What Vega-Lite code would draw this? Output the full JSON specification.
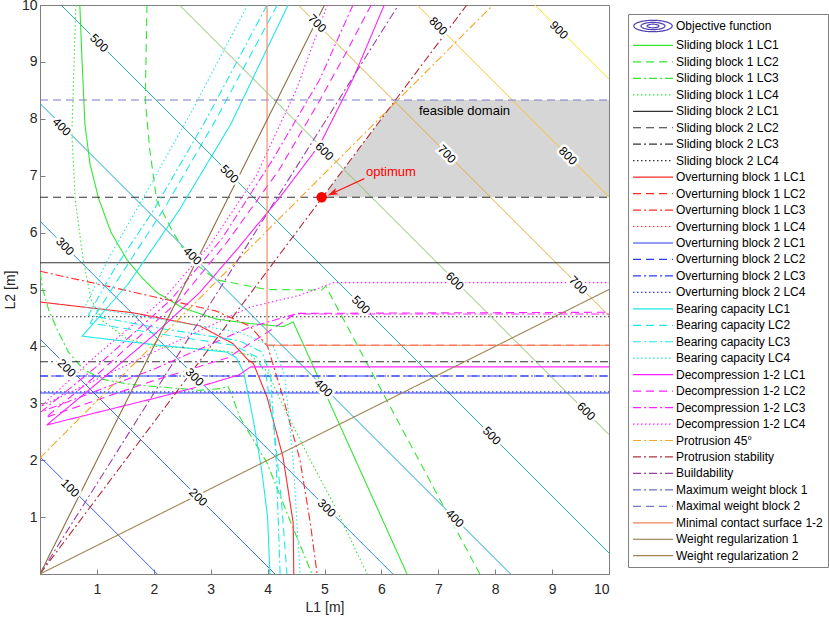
{
  "$schema": "https://vega.github.io/schema/vega-lite/v6.json",
  "width": 569,
  "height": 569,
  "autosize": {"type": "none"},
  "padding": {"left": 40, "top": 5, "right": 220, "bottom": 44},
  "config": {
    "font": "Liberation Sans",
    "view": {"stroke": "#7f7f7f", "strokeWidth": 1},
    "axis": {"grid": false, "domainColor": "#7f7f7f", "tickColor": "#7f7f7f", "labelColor": "#262626", "titleColor": "#262626", "labelFontSize": 14, "titleFontSize": 14, "titleFontWeight": "normal", "labelFont": "Liberation Sans", "titleFont": "Liberation Sans", "tickSize": -5}
  },
  "datasets": {
    "feas": [
      {"x": 4.97, "y": 6.62, "y2": 6.62},
      {"x": 6.25, "y": 6.62, "y2": 8.33},
      {"x": 10, "y": 6.62, "y2": 8.33}
    ],
    "ticks": [{"v": 1}, {"v": 2}, {"v": 3}, {"v": 4}, {"v": 5}, {"v": 6}, {"v": 7}, {"v": 8}, {"v": 9}],
    "contours": [
      {"lev": "100", "i": 0, "x": 0, "y": 2.06}, {"lev": "100", "i": 1, "x": 2.06, "y": 0},
      {"lev": "200", "i": 0, "x": 0, "y": 4.13}, {"lev": "200", "i": 1, "x": 4.13, "y": 0},
      {"lev": "300", "i": 0, "x": 0, "y": 6.2}, {"lev": "300", "i": 1, "x": 6.2, "y": 0},
      {"lev": "400", "i": 0, "x": 0, "y": 8.27}, {"lev": "400", "i": 1, "x": 8.27, "y": 0},
      {"lev": "500", "i": 0, "x": 0.37, "y": 10}, {"lev": "500", "i": 1, "x": 10, "y": 0.37},
      {"lev": "600", "i": 0, "x": 2.45, "y": 10}, {"lev": "600", "i": 1, "x": 10, "y": 2.45},
      {"lev": "700", "i": 0, "x": 4.54, "y": 10}, {"lev": "700", "i": 1, "x": 10, "y": 4.54},
      {"lev": "800", "i": 0, "x": 6.63, "y": 10}, {"lev": "800", "i": 1, "x": 10, "y": 6.63},
      {"lev": "900", "i": 0, "x": 8.7, "y": 10}, {"lev": "900", "i": 1, "x": 10, "y": 8.7}
    ],
    "clabels": [
      {"t": "100", "x": 0.53, "y": 1.51},
      {"t": "200", "x": 0.47, "y": 3.62}, {"t": "200", "x": 2.78, "y": 1.35},
      {"t": "300", "x": 0.44, "y": 5.76}, {"t": "300", "x": 2.72, "y": 3.46}, {"t": "300", "x": 5.04, "y": 1.16},
      {"t": "400", "x": 0.38, "y": 7.86}, {"t": "400", "x": 2.68, "y": 5.59}, {"t": "400", "x": 4.98, "y": 3.27}, {"t": "400", "x": 7.29, "y": 0.98},
      {"t": "500", "x": 1.04, "y": 9.33}, {"t": "500", "x": 3.33, "y": 7.03}, {"t": "500", "x": 5.64, "y": 4.73}, {"t": "500", "x": 7.94, "y": 2.43},
      {"t": "600", "x": 5.0, "y": 7.43}, {"t": "600", "x": 7.29, "y": 5.15}, {"t": "600", "x": 9.6, "y": 2.86},
      {"t": "700", "x": 4.87, "y": 9.68}, {"t": "700", "x": 7.15, "y": 7.38}, {"t": "700", "x": 9.46, "y": 5.08},
      {"t": "800", "x": 7.0, "y": 9.63}, {"t": "800", "x": 9.28, "y": 7.35},
      {"t": "900", "x": 9.12, "y": 9.56}
    ],
    "lines": [
      {"s": "Sliding block 1 LC1", "i": 0, "x": 0.70, "y": 10},
      {"s": "Sliding block 1 LC1", "i": 1, "x": 0.74, "y": 9.0},
      {"s": "Sliding block 1 LC1", "i": 2, "x": 0.79, "y": 7.9},
      {"s": "Sliding block 1 LC1", "i": 3, "x": 0.88, "y": 7.2},
      {"s": "Sliding block 1 LC1", "i": 4, "x": 1.03, "y": 6.6},
      {"s": "Sliding block 1 LC1", "i": 5, "x": 1.25, "y": 6.0},
      {"s": "Sliding block 1 LC1", "i": 6, "x": 1.53, "y": 5.52},
      {"s": "Sliding block 1 LC1", "i": 7, "x": 1.8, "y": 5.2},
      {"s": "Sliding block 1 LC1", "i": 8, "x": 2.05, "y": 4.95},
      {"s": "Sliding block 1 LC1", "i": 9, "x": 2.5, "y": 4.68},
      {"s": "Sliding block 1 LC1", "i": 10, "x": 3.1, "y": 4.48},
      {"s": "Sliding block 1 LC1", "i": 11, "x": 3.7, "y": 4.4},
      {"s": "Sliding block 1 LC1", "i": 12, "x": 4.28, "y": 4.35},
      {"s": "Sliding block 1 LC1", "i": 13, "x": 4.45, "y": 4.43},
      {"s": "Sliding block 1 LC1", "i": 14, "x": 6.45, "y": 0},

      {"s": "Sliding block 1 LC2", "i": 0, "x": 1.88, "y": 10},
      {"s": "Sliding block 1 LC2", "i": 1, "x": 1.85, "y": 8.33},
      {"s": "Sliding block 1 LC2", "i": 2, "x": 1.93, "y": 7.45},
      {"s": "Sliding block 1 LC2", "i": 3, "x": 2.05, "y": 6.57},
      {"s": "Sliding block 1 LC2", "i": 4, "x": 2.34, "y": 6.0},
      {"s": "Sliding block 1 LC2", "i": 5, "x": 2.64, "y": 5.52},
      {"s": "Sliding block 1 LC2", "i": 6, "x": 3.1, "y": 5.17},
      {"s": "Sliding block 1 LC2", "i": 7, "x": 3.99, "y": 5.0},
      {"s": "Sliding block 1 LC2", "i": 8, "x": 4.95, "y": 4.99},
      {"s": "Sliding block 1 LC2", "i": 9, "x": 5.02, "y": 5.06},
      {"s": "Sliding block 1 LC2", "i": 10, "x": 7.73, "y": 0},

      {"s": "Sliding block 1 LC3", "i": 0, "x": 0, "y": 5.3},
      {"s": "Sliding block 1 LC3", "i": 1, "x": 0.05, "y": 5.0},
      {"s": "Sliding block 1 LC3", "i": 2, "x": 0.15, "y": 4.65},
      {"s": "Sliding block 1 LC3", "i": 3, "x": 0.3, "y": 4.3},
      {"s": "Sliding block 1 LC3", "i": 4, "x": 0.5, "y": 3.9},
      {"s": "Sliding block 1 LC3", "i": 5, "x": 0.76, "y": 3.6},
      {"s": "Sliding block 1 LC3", "i": 6, "x": 1.1, "y": 3.42},
      {"s": "Sliding block 1 LC3", "i": 7, "x": 1.6, "y": 3.33},
      {"s": "Sliding block 1 LC3", "i": 8, "x": 2.8, "y": 3.23},
      {"s": "Sliding block 1 LC3", "i": 9, "x": 3.2, "y": 3.26},
      {"s": "Sliding block 1 LC3", "i": 10, "x": 3.3, "y": 3.3},
      {"s": "Sliding block 1 LC3", "i": 11, "x": 3.35, "y": 3.2},
      {"s": "Sliding block 1 LC3", "i": 12, "x": 3.51, "y": 2.76},
      {"s": "Sliding block 1 LC3", "i": 13, "x": 3.99, "y": 1.95},
      {"s": "Sliding block 1 LC3", "i": 14, "x": 4.39, "y": 0.95},
      {"s": "Sliding block 1 LC3", "i": 15, "x": 4.78, "y": 0},

      {"s": "Sliding block 1 LC4", "i": 0, "x": 0.63, "y": 10},
      {"s": "Sliding block 1 LC4", "i": 1, "x": 0.59, "y": 8.7},
      {"s": "Sliding block 1 LC4", "i": 2, "x": 0.56, "y": 7.75},
      {"s": "Sliding block 1 LC4", "i": 3, "x": 0.62, "y": 6.57},
      {"s": "Sliding block 1 LC4", "i": 4, "x": 0.76, "y": 5.52},
      {"s": "Sliding block 1 LC4", "i": 5, "x": 0.9, "y": 4.82},
      {"s": "Sliding block 1 LC4", "i": 6, "x": 1.1, "y": 4.45},
      {"s": "Sliding block 1 LC4", "i": 7, "x": 1.5, "y": 4.15},
      {"s": "Sliding block 1 LC4", "i": 8, "x": 2.0, "y": 4.0},
      {"s": "Sliding block 1 LC4", "i": 9, "x": 3.0, "y": 3.95},
      {"s": "Sliding block 1 LC4", "i": 10, "x": 3.7, "y": 3.85},
      {"s": "Sliding block 1 LC4", "i": 11, "x": 4.0, "y": 3.55},
      {"s": "Sliding block 1 LC4", "i": 12, "x": 4.3, "y": 2.9},
      {"s": "Sliding block 1 LC4", "i": 13, "x": 4.75, "y": 2.0},
      {"s": "Sliding block 1 LC4", "i": 14, "x": 5.15, "y": 1.25},
      {"s": "Sliding block 1 LC4", "i": 15, "x": 5.75, "y": 0},

      {"s": "Sliding block 2 LC1", "i": 0, "x": 0, "y": 5.47}, {"s": "Sliding block 2 LC1", "i": 1, "x": 10, "y": 5.47},
      {"s": "Sliding block 2 LC2", "i": 0, "x": 0, "y": 6.62}, {"s": "Sliding block 2 LC2", "i": 1, "x": 10, "y": 6.62},
      {"s": "Sliding block 2 LC3", "i": 0, "x": 0, "y": 3.73}, {"s": "Sliding block 2 LC3", "i": 1, "x": 10, "y": 3.73},
      {"s": "Sliding block 2 LC4", "i": 0, "x": 0, "y": 4.52}, {"s": "Sliding block 2 LC4", "i": 1, "x": 10, "y": 4.52},

      {"s": "Overturning block 1 LC1", "i": 0, "x": 0, "y": 4.78},
      {"s": "Overturning block 1 LC1", "i": 1, "x": 1.64, "y": 4.59},
      {"s": "Overturning block 1 LC1", "i": 2, "x": 2.81, "y": 4.36},
      {"s": "Overturning block 1 LC1", "i": 3, "x": 3.39, "y": 4.05},
      {"s": "Overturning block 1 LC1", "i": 4, "x": 3.66, "y": 3.76},
      {"s": "Overturning block 1 LC1", "i": 5, "x": 3.75, "y": 3.7},
      {"s": "Overturning block 1 LC1", "i": 6, "x": 3.99, "y": 3.11},
      {"s": "Overturning block 1 LC1", "i": 7, "x": 4.27, "y": 2.06},
      {"s": "Overturning block 1 LC1", "i": 8, "x": 4.45, "y": 0.9},
      {"s": "Overturning block 1 LC1", "i": 9, "x": 4.46, "y": 0},

      {"s": "Overturning block 1 LC2", "i": 0, "x": 3.99, "y": 4.02},
      {"s": "Overturning block 1 LC2", "i": 1, "x": 10, "y": 4.02},

      {"s": "Overturning block 1 LC3", "i": 0, "x": 0, "y": 5.32},
      {"s": "Overturning block 1 LC3", "i": 1, "x": 1.0, "y": 5.1},
      {"s": "Overturning block 1 LC3", "i": 2, "x": 2.1, "y": 4.85},
      {"s": "Overturning block 1 LC3", "i": 3, "x": 3.1, "y": 4.62},
      {"s": "Overturning block 1 LC3", "i": 4, "x": 3.7, "y": 4.35},
      {"s": "Overturning block 1 LC3", "i": 5, "x": 4.0, "y": 4.0},
      {"s": "Overturning block 1 LC3", "i": 6, "x": 4.27, "y": 3.11},
      {"s": "Overturning block 1 LC3", "i": 7, "x": 4.57, "y": 2.0},
      {"s": "Overturning block 1 LC3", "i": 8, "x": 4.75, "y": 0.9},
      {"s": "Overturning block 1 LC3", "i": 9, "x": 4.87, "y": 0},

      {"s": "Overturning block 2 LC1", "i": 0, "x": 0, "y": 3.18}, {"s": "Overturning block 2 LC1", "i": 1, "x": 10, "y": 3.18},
      {"s": "Overturning block 2 LC2", "i": 0, "x": 0, "y": 3.48}, {"s": "Overturning block 2 LC2", "i": 1, "x": 10, "y": 3.48},
      {"s": "Overturning block 2 LC3", "i": 0, "x": 0, "y": 3.48}, {"s": "Overturning block 2 LC3", "i": 1, "x": 10, "y": 3.48},
      {"s": "Overturning block 2 LC4", "i": 0, "x": 0, "y": 3.2}, {"s": "Overturning block 2 LC4", "i": 1, "x": 10, "y": 3.2},

      {"s": "Bearing capacity LC1", "i": 0, "x": 4.36, "y": 10},
      {"s": "Bearing capacity LC1", "i": 1, "x": 3.35, "y": 7.9},
      {"s": "Bearing capacity LC1", "i": 2, "x": 2.45, "y": 6.4},
      {"s": "Bearing capacity LC1", "i": 3, "x": 1.55, "y": 5.1},
      {"s": "Bearing capacity LC1", "i": 4, "x": 0.74, "y": 4.18},
      {"s": "Bearing capacity LC1", "i": 5, "x": 2.1, "y": 4.02},
      {"s": "Bearing capacity LC1", "i": 6, "x": 3.28, "y": 3.9},
      {"s": "Bearing capacity LC1", "i": 7, "x": 3.45, "y": 3.8},
      {"s": "Bearing capacity LC1", "i": 8, "x": 3.58, "y": 3.55},
      {"s": "Bearing capacity LC1", "i": 9, "x": 3.75, "y": 2.7},
      {"s": "Bearing capacity LC1", "i": 10, "x": 3.9, "y": 1.8},
      {"s": "Bearing capacity LC1", "i": 11, "x": 4.0, "y": 1.0},
      {"s": "Bearing capacity LC1", "i": 12, "x": 4.04, "y": 0},

      {"s": "Bearing capacity LC2", "i": 0, "x": 4.17, "y": 10},
      {"s": "Bearing capacity LC2", "i": 1, "x": 3.1, "y": 8.0},
      {"s": "Bearing capacity LC2", "i": 2, "x": 2.2, "y": 6.45},
      {"s": "Bearing capacity LC2", "i": 3, "x": 1.45, "y": 5.3},
      {"s": "Bearing capacity LC2", "i": 4, "x": 0.88, "y": 4.41},
      {"s": "Bearing capacity LC2", "i": 5, "x": 2.1, "y": 4.22},
      {"s": "Bearing capacity LC2", "i": 6, "x": 3.4, "y": 4.02},
      {"s": "Bearing capacity LC2", "i": 7, "x": 3.8, "y": 3.82},
      {"s": "Bearing capacity LC2", "i": 8, "x": 3.97, "y": 3.5},
      {"s": "Bearing capacity LC2", "i": 9, "x": 4.12, "y": 2.5},
      {"s": "Bearing capacity LC2", "i": 10, "x": 4.25, "y": 1.2},
      {"s": "Bearing capacity LC2", "i": 11, "x": 4.34, "y": 0},

      {"s": "Bearing capacity LC3", "i": 0, "x": 3.99, "y": 10},
      {"s": "Bearing capacity LC3", "i": 1, "x": 2.9, "y": 7.95},
      {"s": "Bearing capacity LC3", "i": 2, "x": 2.0, "y": 6.4},
      {"s": "Bearing capacity LC3", "i": 3, "x": 1.3, "y": 5.35},
      {"s": "Bearing capacity LC3", "i": 4, "x": 0.85, "y": 4.55},
      {"s": "Bearing capacity LC3", "i": 5, "x": 2.1, "y": 4.32},
      {"s": "Bearing capacity LC3", "i": 6, "x": 3.5, "y": 4.1},
      {"s": "Bearing capacity LC3", "i": 7, "x": 3.9, "y": 3.9},
      {"s": "Bearing capacity LC3", "i": 8, "x": 4.05, "y": 3.5},
      {"s": "Bearing capacity LC3", "i": 9, "x": 4.15, "y": 2.0},
      {"s": "Bearing capacity LC3", "i": 10, "x": 4.22, "y": 0},

      {"s": "Bearing capacity LC4", "i": 0, "x": 3.65, "y": 10},
      {"s": "Bearing capacity LC4", "i": 1, "x": 2.65, "y": 8.1},
      {"s": "Bearing capacity LC4", "i": 2, "x": 1.75, "y": 6.5},
      {"s": "Bearing capacity LC4", "i": 3, "x": 1.18, "y": 5.5},
      {"s": "Bearing capacity LC4", "i": 4, "x": 0.79, "y": 4.69},
      {"s": "Bearing capacity LC4", "i": 5, "x": 2.1, "y": 4.48},
      {"s": "Bearing capacity LC4", "i": 6, "x": 3.5, "y": 4.25},
      {"s": "Bearing capacity LC4", "i": 7, "x": 4.1, "y": 4.0},
      {"s": "Bearing capacity LC4", "i": 8, "x": 4.3, "y": 3.5},
      {"s": "Bearing capacity LC4", "i": 9, "x": 4.45, "y": 2.0},
      {"s": "Bearing capacity LC4", "i": 10, "x": 4.57, "y": 0},

      {"s": "Decompression 1-2 LC1", "i": 0, "x": 6.05, "y": 10},
      {"s": "Decompression 1-2 LC1", "i": 1, "x": 5.5, "y": 8.7},
      {"s": "Decompression 1-2 LC1", "i": 2, "x": 4.92, "y": 7.55},
      {"s": "Decompression 1-2 LC1", "i": 3, "x": 4.2, "y": 6.6},
      {"s": "Decompression 1-2 LC1", "i": 4, "x": 3.5, "y": 5.75},
      {"s": "Decompression 1-2 LC1", "i": 5, "x": 2.81, "y": 4.95},
      {"s": "Decompression 1-2 LC1", "i": 6, "x": 2.0, "y": 4.2},
      {"s": "Decompression 1-2 LC1", "i": 7, "x": 1.0, "y": 3.35},
      {"s": "Decompression 1-2 LC1", "i": 8, "x": 0.12, "y": 2.62},
      {"s": "Decompression 1-2 LC1", "i": 9, "x": 2.1, "y": 3.11},
      {"s": "Decompression 1-2 LC1", "i": 10, "x": 3.0, "y": 3.35},
      {"s": "Decompression 1-2 LC1", "i": 11, "x": 3.5, "y": 3.5},
      {"s": "Decompression 1-2 LC1", "i": 12, "x": 3.7, "y": 3.64},
      {"s": "Decompression 1-2 LC1", "i": 13, "x": 10, "y": 3.64},

      {"s": "Decompression 1-2 LC2", "i": 0, "x": 5.82, "y": 10},
      {"s": "Decompression 1-2 LC2", "i": 1, "x": 5.4, "y": 9.2},
      {"s": "Decompression 1-2 LC2", "i": 2, "x": 4.92, "y": 8.33},
      {"s": "Decompression 1-2 LC2", "i": 3, "x": 4.2, "y": 7.1},
      {"s": "Decompression 1-2 LC2", "i": 4, "x": 3.3, "y": 5.85},
      {"s": "Decompression 1-2 LC2", "i": 5, "x": 2.46, "y": 4.82},
      {"s": "Decompression 1-2 LC2", "i": 6, "x": 1.0, "y": 3.5},
      {"s": "Decompression 1-2 LC2", "i": 7, "x": 0.1, "y": 2.75},
      {"s": "Decompression 1-2 LC2", "i": 8, "x": 2.0, "y": 3.4},
      {"s": "Decompression 1-2 LC2", "i": 9, "x": 3.3, "y": 3.8},
      {"s": "Decompression 1-2 LC2", "i": 10, "x": 4.0, "y": 4.25},
      {"s": "Decompression 1-2 LC2", "i": 11, "x": 4.5, "y": 4.58},
      {"s": "Decompression 1-2 LC2", "i": 12, "x": 10, "y": 4.6},

      {"s": "Decompression 1-2 LC3", "i": 0, "x": 5.5, "y": 10},
      {"s": "Decompression 1-2 LC3", "i": 1, "x": 4.92, "y": 8.7},
      {"s": "Decompression 1-2 LC3", "i": 2, "x": 4.1, "y": 7.3},
      {"s": "Decompression 1-2 LC3", "i": 3, "x": 3.2, "y": 5.9},
      {"s": "Decompression 1-2 LC3", "i": 4, "x": 2.3, "y": 4.82},
      {"s": "Decompression 1-2 LC3", "i": 5, "x": 1.0, "y": 3.65},
      {"s": "Decompression 1-2 LC3", "i": 6, "x": 0.02, "y": 2.85},
      {"s": "Decompression 1-2 LC3", "i": 7, "x": 2.0, "y": 3.6},
      {"s": "Decompression 1-2 LC3", "i": 8, "x": 3.69, "y": 4.34},
      {"s": "Decompression 1-2 LC3", "i": 9, "x": 4.5, "y": 4.57},
      {"s": "Decompression 1-2 LC3", "i": 10, "x": 10, "y": 4.57},

      {"s": "Decompression 1-2 LC4", "i": 0, "x": 5.05, "y": 10},
      {"s": "Decompression 1-2 LC4", "i": 1, "x": 4.5, "y": 8.5},
      {"s": "Decompression 1-2 LC4", "i": 2, "x": 3.8, "y": 7.0},
      {"s": "Decompression 1-2 LC4", "i": 3, "x": 3.0, "y": 5.8},
      {"s": "Decompression 1-2 LC4", "i": 4, "x": 2.16, "y": 4.82},
      {"s": "Decompression 1-2 LC4", "i": 5, "x": 1.0, "y": 3.85},
      {"s": "Decompression 1-2 LC4", "i": 6, "x": 0.02, "y": 2.95},
      {"s": "Decompression 1-2 LC4", "i": 7, "x": 2.0, "y": 3.9},
      {"s": "Decompression 1-2 LC4", "i": 8, "x": 3.69, "y": 4.69},
      {"s": "Decompression 1-2 LC4", "i": 9, "x": 4.57, "y": 4.9},
      {"s": "Decompression 1-2 LC4", "i": 10, "x": 5.15, "y": 5.12},
      {"s": "Decompression 1-2 LC4", "i": 11, "x": 10, "y": 5.12},

      {"s": "Protrusion 45°", "i": 0, "x": 0, "y": 2.04}, {"s": "Protrusion 45°", "i": 1, "x": 7.96, "y": 10},
      {"s": "Protrusion stability", "i": 0, "x": 0, "y": 0}, {"s": "Protrusion stability", "i": 1, "x": 7.5, "y": 10},
      {"s": "Buildability", "i": 0, "x": 0, "y": 0}, {"s": "Buildability", "i": 1, "x": 6.3, "y": 10},
      {"s": "Maximal weight block 2", "i": 0, "x": 0, "y": 8.33}, {"s": "Maximal weight block 2", "i": 1, "x": 10, "y": 8.33},
      {"s": "Minimal contact surface 1-2", "i": 0, "x": 3.99, "y": 10},
      {"s": "Minimal contact surface 1-2", "i": 1, "x": 3.99, "y": 4.02},
      {"s": "Minimal contact surface 1-2", "i": 2, "x": 10, "y": 4.02},
      {"s": "Weight regularization 1", "i": 0, "x": 0, "y": 0}, {"s": "Weight regularization 1", "i": 1, "x": 5, "y": 10},
      {"s": "Weight regularization 2", "i": 0, "x": 0, "y": 0}, {"s": "Weight regularization 2", "i": 1, "x": 10, "y": 5}
    ],
    "optimum": [{"x": 4.95, "y": 6.62}],
    "arrow": [{"x": 5.7, "y": 6.95, "x2": 5.16, "y2": 6.7}],
    "arrowhead": [{"x": 5.14, "y": 6.69}],
    "notes": [{"t": "optimum", "x": 5.73, "y": 7.0}],
    "feastext": [{"t": "feasible domain", "x": 7.46, "y": 8.07}]
  },
  "encoding": {
    "x": {"field": "x", "type": "quantitative", "scale": {"domain": [0, 10], "nice": false, "zero": false},
      "axis": {"title": "L1 [m]", "values": [0, 1, 2, 3, 4, 5, 6, 7, 8, 9, 10], "labelExpr": "datum.value == 0 ? '' : datum.label", "labelPadding": 13, "titlePadding": 4}},
    "y": {"field": "y", "type": "quantitative", "scale": {"domain": [0, 10], "nice": false, "zero": false},
      "axis": {"title": "L2 [m]", "values": [0, 1, 2, 3, 4, 5, 6, 7, 8, 9, 10], "labelExpr": "datum.value == 0 ? '' : datum.label", "labelPadding": 8, "titlePadding": 4}}
  },
  "layer": [
    {
      "data": {"name": "feas"},
      "mark": {"type": "area", "color": "#d6d6d6", "opacity": 1},
      "encoding": {"y2": {"field": "y2"}}
    },
    {
      "data": {"name": "contours"},
      "mark": {"type": "line", "strokeWidth": 1, "clip": true},
      "encoding": {
        "stroke": {"field": "lev", "type": "nominal", "legend": null,
          "scale": {"domain": ["100", "200", "300", "400", "500", "600", "700", "800", "900"],
            "range": ["#3d5fe0", "#3b72e2", "#2a8ee0", "#13a3d2", "#20ae9c", "#84bf62", "#d9ae38", "#f6c22f", "#f2ec1c"]}},
        "order": {"field": "i"}
      }
    },
    {
      "data": {"name": "lines"},
      "mark": {"type": "line", "strokeWidth": 1.1, "clip": true},
      "encoding": {
        "color": {"field": "s", "type": "nominal",
          "scale": {
            "domain": ["Objective function", "Sliding block 1 LC1", "Sliding block 1 LC2", "Sliding block 1 LC3", "Sliding block 1 LC4", "Sliding block 2 LC1", "Sliding block 2 LC2", "Sliding block 2 LC3", "Sliding block 2 LC4", "Overturning block 1 LC1", "Overturning block 1 LC2", "Overturning block 1 LC3", "Overturning block 1 LC4", "Overturning block 2 LC1", "Overturning block 2 LC2", "Overturning block 2 LC3", "Overturning block 2 LC4", "Bearing capacity LC1", "Bearing capacity LC2", "Bearing capacity LC3", "Bearing capacity LC4", "Decompression 1-2 LC1", "Decompression 1-2 LC2", "Decompression 1-2 LC3", "Decompression 1-2 LC4", "Protrusion 45°", "Protrusion stability", "Buildability", "Maximum weight block 1", "Maximal weight block 2", "Minimal contact surface 1-2", "Weight regularization 1", "Weight regularization 2"],
            "range": ["#5040b0", "#33e633", "#33e633", "#33e633", "#33e633", "#333333", "#333333", "#333333", "#333333", "#ff2a2a", "#ff2a2a", "#ff2a2a", "#ff2a2a", "#2a3cf0", "#2a3cf0", "#2a3cf0", "#2a3cf0", "#1ee8e8", "#1ee8e8", "#1ee8e8", "#1ee8e8", "#ff22ff", "#ff22ff", "#ff22ff", "#ff22ff", "#f5a623", "#b0303a", "#9b3fa8", "#6f6fc6", "#7a7acc", "#f4845f", "#8c6d40", "#a08550"]
          },
          "legend": {
            "orient": "none", "legendX": 588, "legendY": 9, "title": null,
            "strokeColor": "#808080", "fillColor": "#ffffff", "padding": 5,
            "symbolType": "M-3.333,0L3.333,0", "symbolSize": 144, "symbolStrokeWidth": 1.2, "symbolOffset": 13,
            "symbolFillColor": "transparent", "symbolLimit": 50,
            "labelFont": "Liberation Sans", "labelFontSize": 12, "labelColor": "#000000", "labelOffset": 16, "labelLimit": 0,
            "rowPadding": 3.46,
            "encode": {"symbols": {"update": {"shape": {"signal": "datum.value === 'Objective function' ? 'M-3.2,0A3.2,0.95 0 1,1 3.2,0A3.2,0.95 0 1,1 -3.2,0M-2,0A2,0.6 0 1,1 2,0A2,0.6 0 1,1 -2,0M-1,0A1,0.3 0 1,1 1,0A1,0.3 0 1,1 -1,0' : 'M-3.333,0L3.333,0'"}}}}
          }
        },
        "strokeDash": {"field": "s", "type": "nominal",
          "scale": {
            "domain": ["Objective function", "Sliding block 1 LC1", "Sliding block 1 LC2", "Sliding block 1 LC3", "Sliding block 1 LC4", "Sliding block 2 LC1", "Sliding block 2 LC2", "Sliding block 2 LC3", "Sliding block 2 LC4", "Overturning block 1 LC1", "Overturning block 1 LC2", "Overturning block 1 LC3", "Overturning block 1 LC4", "Overturning block 2 LC1", "Overturning block 2 LC2", "Overturning block 2 LC3", "Overturning block 2 LC4", "Bearing capacity LC1", "Bearing capacity LC2", "Bearing capacity LC3", "Bearing capacity LC4", "Decompression 1-2 LC1", "Decompression 1-2 LC2", "Decompression 1-2 LC3", "Decompression 1-2 LC4", "Protrusion 45°", "Protrusion stability", "Buildability", "Maximum weight block 1", "Maximal weight block 2", "Minimal contact surface 1-2", "Weight regularization 1", "Weight regularization 2"],
            "range": [[1, 0], [1, 0], [8, 5], [8, 3, 2, 3], [1.5, 2.5], [1, 0], [8, 5], [8, 3, 2, 3], [1.5, 2.5], [1, 0], [8, 5], [8, 3, 2, 3], [1.5, 2.5], [1, 0], [8, 5], [8, 3, 2, 3], [1.5, 2.5], [1, 0], [8, 5], [8, 3, 2, 3], [1.5, 2.5], [1, 0], [8, 5], [8, 3, 2, 3], [1.5, 2.5], [8, 3, 2, 3], [8, 3, 2, 3], [8, 3, 2, 3], [8, 3, 2, 3], [8, 5], [1, 0], [1, 0], [1, 0]]
          },
          "legend": {
            "orient": "none", "legendX": 588, "legendY": 9, "title": null,
            "strokeColor": "#808080", "fillColor": "#ffffff", "padding": 5,
            "symbolType": "M-3.333,0L3.333,0", "symbolSize": 144, "symbolStrokeWidth": 1.2, "symbolOffset": 13,
            "symbolFillColor": "transparent", "symbolLimit": 50,
            "labelFont": "Liberation Sans", "labelFontSize": 12, "labelColor": "#000000", "labelOffset": 16, "labelLimit": 0,
            "rowPadding": 3.46
          }
        },
        "order": {"field": "i"}
      }
    },
    {
      "data": {"name": "ticks"},
      "mark": {"type": "rule", "color": "#7f7f7f", "strokeWidth": 1},
      "encoding": {"x": {"field": "v", "type": "quantitative"}, "y": {"datum": 10}, "y2": {"datum": 9.91}}
    },
    {
      "data": {"name": "ticks"},
      "mark": {"type": "rule", "color": "#7f7f7f", "strokeWidth": 1},
      "encoding": {"y": {"field": "v", "type": "quantitative"}, "x": {"datum": 10}, "x2": {"datum": 9.91}}
    },
    {
      "data": {"name": "clabels"},
      "mark": {"type": "text", "angle": 45, "fontSize": 12, "font": "Liberation Sans", "stroke": "#ffffff", "strokeWidth": 5, "fill": "#ffffff", "align": "center", "baseline": "middle"},
      "encoding": {"text": {"field": "t"}}
    },
    {
      "data": {"name": "clabels"},
      "mark": {"type": "text", "angle": 45, "fontSize": 12, "font": "Liberation Sans", "color": "#000000", "align": "center", "baseline": "middle"},
      "encoding": {"text": {"field": "t"}}
    },
    {
      "data": {"name": "feastext"},
      "mark": {"type": "text", "fontSize": 13, "font": "Liberation Sans", "color": "#000000", "align": "center", "baseline": "alphabetic"},
      "encoding": {"text": {"field": "t"}}
    },
    {
      "data": {"name": "arrow"},
      "mark": {"type": "rule", "color": "#ff1a1a", "strokeWidth": 1.3},
      "encoding": {"x2": {"field": "x2"}, "y2": {"field": "y2"}}
    },
    {
      "data": {"name": "arrowhead"},
      "mark": {"type": "point", "shape": "M1,0L-1,-0.65L-0.55,0L-1,0.65Z", "angle": 156, "size": 110, "filled": true, "color": "#ff1a1a", "opacity": 1},
      "encoding": {}
    },
    {
      "data": {"name": "optimum"},
      "mark": {"type": "point", "shape": "circle", "size": 110, "filled": true, "color": "#ff0000", "opacity": 1},
      "encoding": {}
    },
    {
      "data": {"name": "notes"},
      "mark": {"type": "text", "fontSize": 13, "font": "Liberation Sans", "color": "#ff0000", "align": "left", "baseline": "alphabetic"},
      "encoding": {"text": {"field": "t"}}
    }
  ]
}
